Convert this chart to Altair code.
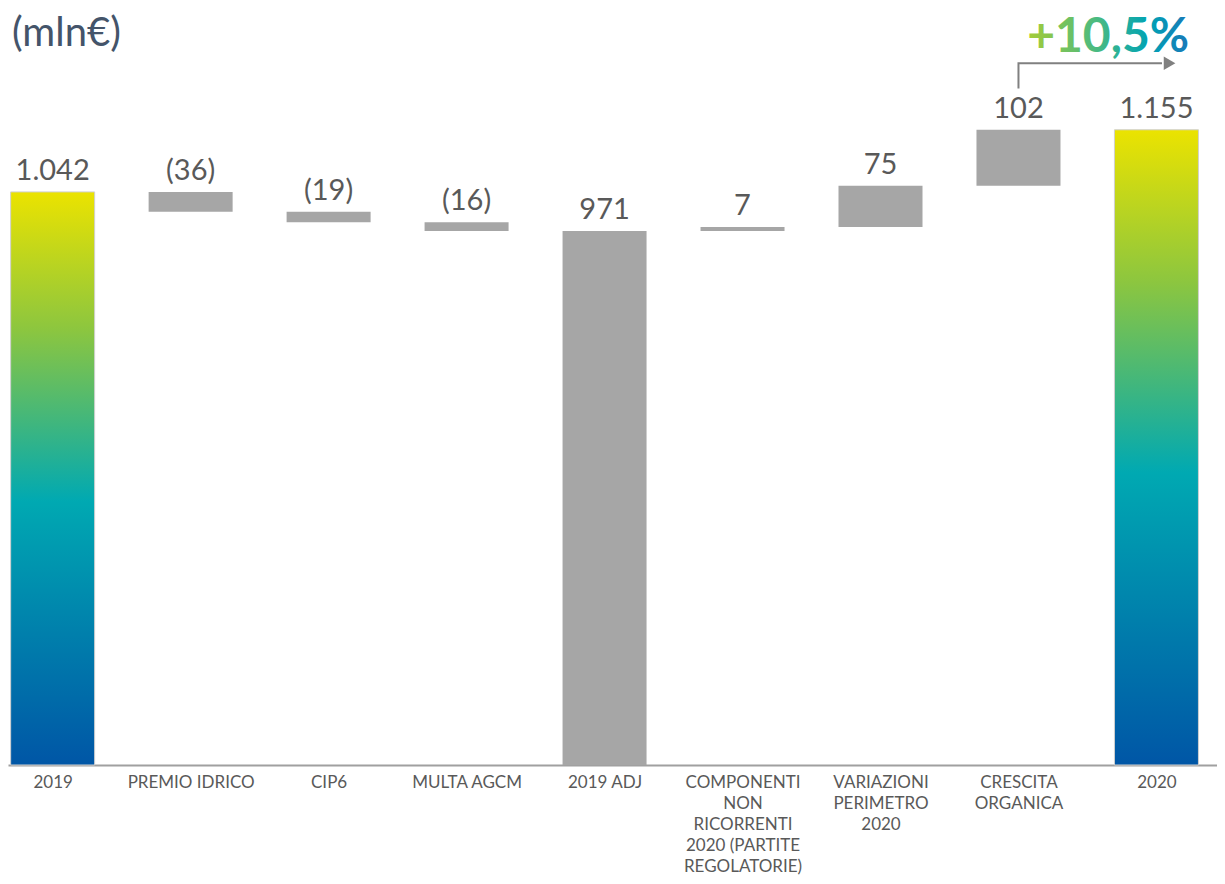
import json
import altair as alt
import pandas as pd

# ---- data ----
categories = ["2019", "PREMIO IDRICO", "CIP6", "MULTA AGCM", "2019 ADJ",
              "COMPONENTI NON RICORRENTI 2020 (PARTITE REGOLATORIE)",
              "VARIAZIONI PERIMETRO 2020", "CRESCITA ORGANICA", "2020"]
axis_lines = [["2019"], ["PREMIO IDRICO"], ["CIP6"], ["MULTA AGCM"], ["2019 ADJ"],
              ["COMPONENTI", "NON", "RICORRENTI", "2020 (PARTITE", "REGOLATORIE)"],
              ["VARIAZIONI", "PERIMETRO", "2020"], ["CRESCITA", "ORGANICA"], ["2020"]]
values = [1042, -36, -19, -16, 971, 7, 75, 102, 1155]
kinds = ["total", "delta", "delta", "delta", "total", "delta", "delta", "delta", "total"]
styles = ["gradient", "gray", "gray", "gray", "gray", "gray", "gray", "gray", "gradient"]
value_labels = ["1.042", "(36)", "(19)", "(16)", "971", "7", "75", "102", "1.155"]

growth_label = "+10,5%"
arrow_x = [7, 7, 8.04]
arrow_y = [1230, 1276, 1276]
arrow_head = (8.095, 1276)
growth_pos = (7.65, 1296)

# ---- build waterfall table ----
rows = []
running = 0
for i, (c, v, k, s, lab) in enumerate(zip(categories, values, kinds, styles, value_labels)):
    if k == "total":
        start, end = 0, v
        running = v
    else:
        start, end = running, running + v
        running = end
    rows.append(dict(idx=i, cat=c, start=start, end=end, top=max(start, end),
                     style=s, label=lab))
df = pd.DataFrame(rows)

FONT = "Lato"
GRAY_TXT = "#595959"

xscale = alt.Scale(domain=[-0.2874, 8.4026], nice=False, zero=False)
yscale = alt.Scale(domain=[0, 1376.4], nice=False, zero=True)

label_expr = json.dumps(axis_lines) + "[datum.value]"

x_enc = alt.X("idx:Q", scale=xscale,
              axis=alt.Axis(values=list(range(len(categories))), labelExpr=label_expr,
                            title=None, grid=False, ticks=False, labelOverlap=False,
                            labelFlush=False, labelBound=False,
                            domainColor="#a0a0a0", domainWidth=2,
                            labelFont=FONT, labelFontSize=17, labelColor=GRAY_TXT,
                            labelPadding=9, labelBaseline="top", labelLineHeight=21))
y_enc = alt.Y("start:Q", scale=yscale, axis=None)

base = alt.Chart(df)

grad = alt.Gradient(
    gradient="linear",
    stops=[alt.GradientStop(color="#0056a6", offset=0),
           alt.GradientStop(color="#00a9b2", offset=0.46),
           alt.GradientStop(color="#8cc63f", offset=0.76),
           alt.GradientStop(color="#ebe300", offset=1)],
    x1=0, y1=1, x2=0, y2=0)

gray_bars = base.transform_filter("datum.style == 'gray'").mark_bar(
    size=84, color="#a6a6a6").encode(x=x_enc, y=y_enc, y2="end:Q")

grad_bars = base.transform_filter("datum.style == 'gradient'").mark_bar(
    size=84, color=grad, stroke="#d0d0d0", strokeWidth=1).encode(
    x=x_enc, y=y_enc, y2="end:Q")

value_text = base.mark_text(font=FONT, fontSize=29, color=GRAY_TXT,
                            baseline="alphabetic", dy=-12).encode(
    x=alt.X("idx:Q", scale=xscale),
    y=alt.Y("top:Q", scale=yscale),
    text="label:N")

arrow_df = pd.DataFrame({"x": arrow_x, "y": arrow_y, "o": list(range(len(arrow_x)))})
arrow_line = alt.Chart(arrow_df).mark_line(color="#808080", strokeWidth=2).encode(
    x=alt.X("x:Q", scale=xscale), y=alt.Y("y:Q", scale=yscale), order="o:Q")

head_df = pd.DataFrame({"x": [arrow_head[0]], "y": [arrow_head[1]]})
arrow_headm = alt.Chart(head_df).mark_point(shape="triangle-right", filled=True,
                                            size=180, color="#808080", opacity=1).encode(
    x=alt.X("x:Q", scale=xscale), y=alt.Y("y:Q", scale=yscale))

growth_df = pd.DataFrame({"x": [growth_pos[0]], "y": [growth_pos[1]], "t": [growth_label]})
text_grad = alt.Gradient(
    gradient="linear",
    stops=[alt.GradientStop(color="#a6cc36", offset=0),
           alt.GradientStop(color="#45b985", offset=0.45),
           alt.GradientStop(color="#00a3b4", offset=0.75),
           alt.GradientStop(color="#1a78b8", offset=1)],
    x1=0, y1=0, x2=1, y2=0)
growth_text = alt.Chart(growth_df).mark_text(font=FONT, fontSize=48, fontWeight="bold",
                                             color=text_grad, baseline="alphabetic").encode(
    x=alt.X("x:Q", scale=xscale), y=alt.Y("y:Q", scale=yscale), text="t:N")

unit_df = pd.DataFrame({"t": ["(mln€)"]})
unit_text = alt.Chart(unit_df).mark_text(font=FONT, fontSize=40, color="#44546a",
                                         align="left", baseline="middle").encode(
    x=alt.value(4), y=alt.value(26), text="t:N")

chart = alt.layer(gray_bars, grad_bars, value_text, arrow_line, arrow_headm,
                  growth_text, unit_text).properties(
    width=1209, height=757,
    autosize=alt.AutoSizeParams(type="none"),
    padding={"left": 0, "top": 0, "right": 0, "bottom": 111},
).configure_view(stroke=None)

chart.save("out.html", embed_options={"renderer": "svg", "actions": False})
